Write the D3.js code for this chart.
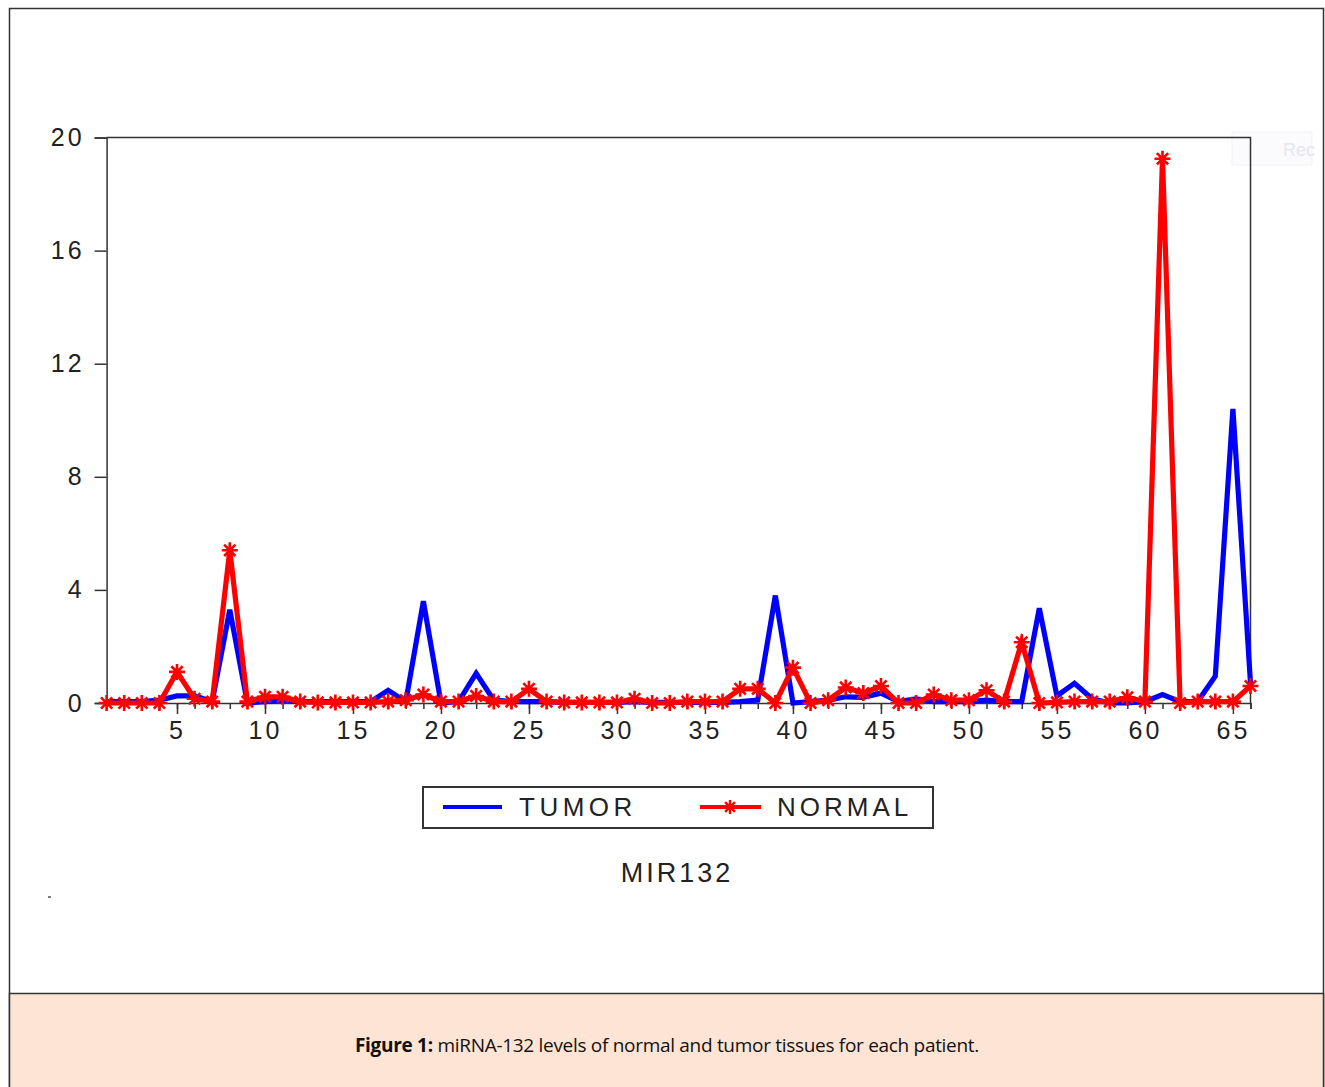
<!DOCTYPE html>
<html>
<head>
<meta charset="utf-8">
<script src="https://cdn.jsdelivr.net/npm/d3@7"></script>
<style>
  html, body { margin: 0; padding: 0; background: #fff; }
  svg { display: block; }
  text { font-family: "Liberation Sans", Arial, sans-serif; }
</style>
</head>
<body>
<svg id="chart" width="1325" height="1087"></svg>
<script>
// ---- data ----
const patients = d3.range(1, 67);
const tumor = [
  0.05, 0.05, 0.05, 0.1, 0.25, 0.25, 0.05, 3.3, 0.0, 0.05,
  0.1, 0.05, 0.05, 0.05, 0.05, 0.05, 0.45, 0.05, 3.6, 0.0,
  0.05, 1.05, 0.1, 0.05, 0.05, 0.05, 0.02, 0.02, 0.02, 0.02,
  0.05, 0.02, 0.02, 0.02, 0.02, 0.02, 0.05, 0.1, 3.8, 0.0,
  0.05, 0.1, 0.22, 0.2, 0.35, 0.05, 0.15, 0.05, 0.05, 0.05,
  0.1, 0.05, 0.05, 3.35, 0.25, 0.7, 0.15, 0.0, 0.0, 0.05,
  0.3, 0.05, 0.05, 0.95, 10.4, 0.7
];
const normal = [
  0.0, 0.0, 0.0, 0.0, 1.1, 0.15, 0.05, 5.4, 0.05, 0.22,
  0.22, 0.05, 0.02, 0.02, 0.02, 0.02, 0.05, 0.1, 0.3, 0.05,
  0.05, 0.25, 0.05, 0.05, 0.5, 0.05, 0.02, 0.02, 0.02, 0.02,
  0.15, 0.0, 0.0, 0.05, 0.05, 0.05, 0.5, 0.5, 0.0, 1.25,
  0.0, 0.1, 0.55, 0.35, 0.6, 0.0, 0.0, 0.3, 0.1, 0.1,
  0.45, 0.05, 2.15, 0.0, 0.02, 0.05, 0.05, 0.05, 0.2, 0.05,
  19.25, 0.0, 0.05, 0.05, 0.05, 0.6
];
const yTicks = [0, 4, 8, 12, 16, 20];
const xMajorTicks = [5, 10, 15, 20, 25, 30, 35, 40, 45, 50, 55, 60, 65];
const seriesNames = ["TUMOR", "NORMAL"];
const chartTitle = "MIR132";
const captionBold = "Figure 1:";
const captionText = " miRNA-132 levels of normal and tumor tissues for each patient.";

// ---- layout ----
const svg = d3.select("#chart");
const pLeft = 106.6, pRight = 1250.5, pTop = 137.5, pBottom = 703;
const x = d3.scaleLinear().domain([1, 66]).range([pLeft, pRight]);
const y = d3.scaleLinear().domain([0, 20]).range([pBottom, pTop]);
const axisColor = "#333";
const axisFont = "'Liberation Sans', Arial, sans-serif";

// outer frame
svg.append("rect").attr("x", 9.5).attr("y", 8.5).attr("width", 1314).attr("height", 1085)
  .attr("fill", "#fff").attr("stroke", "#333").attr("stroke-width", 1.5);
// caption band
svg.append("rect").attr("x", 9.5).attr("y", 993.5).attr("width", 1314).attr("height", 100)
  .attr("fill", "#fde4d4").attr("stroke", "#333").attr("stroke-width", 1.5);
const cap = svg.append("text").attr("x", 667).attr("y", 1052).attr("text-anchor", "middle")
  .style("font-family", "'Open Sans', 'Noto Sans', sans-serif").style("font-size", "19px")
  .style("letter-spacing", "-0.3px").attr("fill", "#111");
cap.append("tspan").attr("font-weight", "bold").text(captionBold);
cap.append("tspan").text(captionText);

// faint watermark artifact
svg.append("rect").attr("x", 1232).attr("y", 132).attr("width", 80).attr("height", 33)
  .attr("fill", "#fbfbfd").attr("stroke", "#f1f1f5");
svg.append("text").attr("x", 1283).attr("y", 156).attr("font-size", "18px").attr("fill", "#e6e6ee").text("Rec");

// plot frame (top and right)
svg.append("path")
  .attr("d", `M${pLeft},${pTop}H${pRight}V${pBottom}`)
  .attr("fill", "none").attr("stroke", axisColor).attr("stroke-width", 1.5);

// y axis
const yAxis = d3.axisLeft(y).tickValues(yTicks).tickSize(12).tickPadding(10).tickFormat(d3.format("d"));
const gy = svg.append("g").attr("transform", `translate(${pLeft},0)`).call(yAxis);
gy.attr("font-family", null);
gy.select(".domain").attr("stroke", axisColor).attr("stroke-width", 1.5);
gy.selectAll(".tick line").attr("stroke", axisColor).attr("stroke-width", 1.5);
gy.selectAll(".tick text").attr("fill", "#222")
  .style("font-family", axisFont).style("font-size", "25px").style("letter-spacing", "3px");

// x axis minor ticks (every integer)
const xMinor = d3.axisBottom(x).tickValues(patients).tickSize(6).tickFormat("");
const gxm = svg.append("g").attr("transform", `translate(0,${pBottom})`).call(xMinor);
gxm.select(".domain").attr("stroke", axisColor).attr("stroke-width", 1.5);
gxm.selectAll(".tick line").attr("stroke", axisColor).attr("stroke-width", 1.5);

// x axis major ticks with labels
const xAxis = d3.axisBottom(x).tickValues(xMajorTicks).tickSize(11).tickPadding(7).tickFormat(d3.format("d"));
const gx = svg.append("g").attr("transform", `translate(0,${pBottom})`).call(xAxis);
gx.attr("font-family", null);
gx.select(".domain").remove();
gx.selectAll(".tick line").attr("stroke", axisColor).attr("stroke-width", 1.5);
gx.selectAll(".tick text").attr("fill", "#222")
  .style("font-family", axisFont).style("font-size", "25px").style("letter-spacing", "3px");

// lines
const tumorData = patients.map((p, i) => ({ p, v: tumor[i] }));
const normalData = patients.map((p, i) => ({ p, v: normal[i] }));
const line = d3.line().x(d => x(d.p)).y(d => y(d.v));

svg.append("path").datum(tumorData).attr("d", line)
  .attr("fill", "none").attr("stroke", "#0000ff").attr("stroke-width", 5.2).attr("stroke-linejoin", "miter");
svg.append("path").datum(normalData).attr("d", line)
  .attr("fill", "none").attr("stroke", "#ff0000").attr("stroke-width", 5.2).attr("stroke-linejoin", "miter");

// star markers
const starPath = (r) => {
  let s = "";
  for (let k = 0; k < 4; k++) {
    const a = k * Math.PI / 4;
    const dx = r * Math.cos(a), dy = r * Math.sin(a);
    s += `M${-dx},${-dy}L${dx},${dy}`;
  }
  return s;
};
svg.append("g").selectAll("path").data(normalData).join("path")
  .attr("transform", d => `translate(${x(d.p)},${y(d.v)})`)
  .attr("d", starPath(8))
  .attr("stroke", "#ff0000").attr("stroke-width", 2.6).attr("fill", "none");

// legend
const lg = svg.append("g");
lg.append("rect").attr("x", 423).attr("y", 787).attr("width", 510).attr("height", 41)
  .attr("fill", "#fff").attr("stroke", "#333").attr("stroke-width", 2);
lg.append("line").attr("x1", 443).attr("x2", 502).attr("y1", 807).attr("y2", 807)
  .attr("stroke", "#0000ff").attr("stroke-width", 4);
lg.append("text").attr("x", 519).attr("y", 816).attr("font-size", "26px").attr("fill", "#222")
  .style("letter-spacing", "4.5px").text(seriesNames[0]);
lg.append("line").attr("x1", 700).attr("x2", 761).attr("y1", 807).attr("y2", 807)
  .attr("stroke", "#ff0000").attr("stroke-width", 4);
lg.append("path").attr("transform", "translate(730,807)").attr("d", starPath(7))
  .attr("stroke", "#ff0000").attr("stroke-width", 2.4);
lg.append("text").attr("x", 777).attr("y", 816).attr("font-size", "26px").attr("fill", "#222")
  .style("letter-spacing", "4px").text(seriesNames[1]);

// subtitle
svg.append("text").attr("x", 677).attr("y", 882).attr("text-anchor", "middle")
  .attr("font-size", "27px").attr("fill", "#222").style("letter-spacing", "3px").text(chartTitle);

// tiny artifact mark
svg.append("line").attr("x1", 48).attr("x2", 51).attr("y1", 897).attr("y2", 897).attr("stroke", "#555").attr("stroke-width", 1.5);
</script>
</body>
</html>
